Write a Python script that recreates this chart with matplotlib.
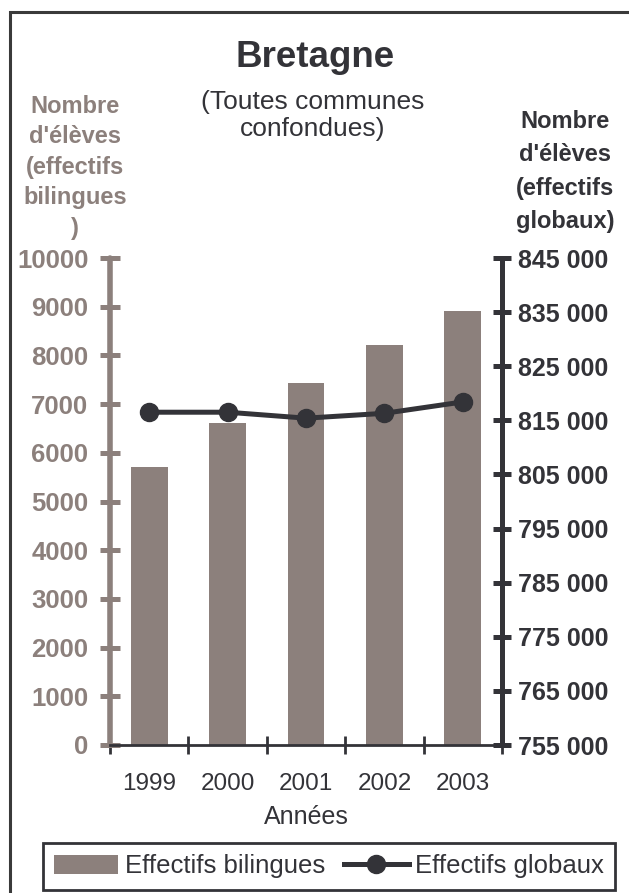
import matplotlib
matplotlib.use("Agg")
import matplotlib.pyplot as plt
from matplotlib.patches import Rectangle

plt.rcParams['font.family'] = ['Liberation Sans', 'DejaVu Sans']

# Data: Breton bilingual pupils vs. total pupils, Brittany
years = ['1999', '2000', '2001', '2002', '2003']
bilingual = [5710, 6610, 7430, 8210, 8910]
total = [816500, 816500, 815400, 816300, 818400]

bilingual_ticks = list(range(0, 10001, 1000))
total_ticks = list(range(755000, 845001, 10000))

TAUPE = '#8c807c'
DARK = '#333338'

W, H = 629, 893
fig = plt.figure(figsize=(W / 100, H / 100), dpi=100)
fig.patch.set_facecolor('white')


def fx(px):
    return px / W


def fy(py):
    return 1 - py / H


ax = fig.add_axes([fx(110), fy(745), fx(502) - fx(110), fy(258) - fy(745)])
xpos = list(range(len(years)))
bars = ax.bar(xpos, bilingual, width=0.47, color=TAUPE, zorder=2,
              label='Effectifs bilingues')
ax.set_xlim(-0.5, len(years) - 0.5)
ax.set_ylim(bilingual_ticks[0], bilingual_ticks[-1])
ax.patch.set_visible(False)

for side in ('top', 'right'):
    ax.spines[side].set_visible(False)
ax.spines['left'].set_color(TAUPE)
ax.spines['left'].set_linewidth(4)
ax.spines['left'].set_capstyle('round')
ax.spines['bottom'].set_color(DARK)
ax.spines['bottom'].set_linewidth(2)

ax.set_yticks(bilingual_ticks)
ax.set_yticklabels([str(t) for t in bilingual_ticks], fontweight='bold')
ax.tick_params(axis='y', direction='inout', length=14, width=3.6,
               color=TAUPE, labelcolor=TAUPE, labelsize=18.5, pad=8.5)

ax.set_xticks(xpos)
ax.set_xticklabels(years, color=DARK, fontsize=17.5)
ax.tick_params(axis='x', which='major', length=0, pad=20)
ax.set_xticks([i - 0.5 for i in range(len(years) + 1)], minor=True)
ax.tick_params(axis='x', which='minor', direction='inout', length=13,
               width=2, color=DARK)
ax.set_xlabel('Années', color=DARK, fontsize=18, labelpad=7.5)

ax2 = ax.twinx()
line, = ax2.plot(xpos, total, color=DARK, lw=3.6, marker='o', ms=13,
                 label='Effectifs globaux', zorder=3)
ax2.set_ylim(total_ticks[0], total_ticks[-1])
for side in ('top', 'left', 'bottom'):
    ax2.spines[side].set_visible(False)
ax2.spines['right'].set_color(DARK)
ax2.spines['right'].set_linewidth(3.6)
ax2.set_yticks(total_ticks)
ax2.set_yticklabels([f"{t:,}".replace(',', ' ') for t in total_ticks],
                    fontweight='bold')
ax2.tick_params(axis='y', direction='inout', length=13, width=3.6,
                color=DARK, labelcolor=DARK, labelsize=18, pad=5)

# Titles (multi-line texts anchored on the baseline of their last line)
fig.text(fx(315), fy(67), 'Bretagne', ha='center', va='baseline',
         fontsize=26.5, fontweight='bold', color=DARK)
fig.text(fx(313), fy(136), '(Toutes communes\nconfondues)', ha='center',
         va='baseline', fontsize=19, color=DARK, linespacing=1.15,
         multialignment='center')

# Axis captions
fig.text(fx(75), fy(235), "Nombre\nd'élèves\n(effectifs\nbilingues\n)",
         ha='center', va='baseline', fontsize=17, fontweight='bold',
         color=TAUPE, linespacing=1.42, multialignment='center')
fig.text(fx(565), fy(228), "Nombre\nd'élèves\n(effectifs\nglobaux)",
         ha='center', va='baseline', fontsize=17, fontweight='bold',
         color=DARK, linespacing=1.57, multialignment='center')

# Legend
leg = fig.legend(handles=[bars, line],
                 labels=['Effectifs bilingues', 'Effectifs globaux'],
                 loc='center', bbox_to_anchor=(fx(329), fy(866.5)),
                 ncol=2, frameon=True, fancybox=False, edgecolor=DARK,
                 fontsize=18.5, labelcolor=DARK, handlelength=2.5,
                 handleheight=0.8, handletextpad=0.25, columnspacing=0.75,
                 borderpad=0.45, borderaxespad=0)
leg.get_frame().set_linewidth(2)
leg.get_frame().set_alpha(None)

# Outer frame
fig.add_artist(Rectangle((fx(10), -0.05), 1.0, fy(12) + 0.05,
                         transform=fig.transFigure, fill=False,
                         lw=2.2, ec='#3a3a3a'))

fig.savefig('out.png', dpi=100, facecolor='white')
